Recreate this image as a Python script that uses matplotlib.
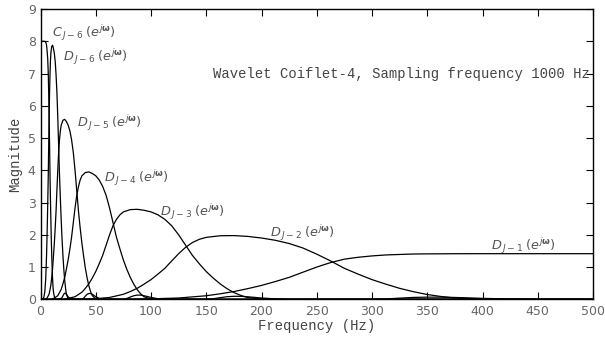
import matplotlib
matplotlib.use("Agg")
import matplotlib.pyplot as plt

# ---------------- data ----------------
freq_c6 = [0, 4, 5, 5.5, 6, 6.5, 7, 7.4, 7.8, 8.2, 8.6, 9, 9.4, 9.8, 10.2, 10.6, 10.9, 11.3, 11.7,
           12.5, 13.3, 14, 19, 20, 21, 21.9, 22.7, 23.4, 24.2, 25, 26.6, 28, 500]
mag_c6 = [8, 8, 7.95, 7.87, 7.69, 7.47, 7.04, 6.45, 5.66, 4.81, 3.85, 3.11, 2.43, 1.81, 1.33, 0.93,
          0.65, 0.40, 0.24, 0.085, 0.03, 0, 0.03, 0.086, 0.155, 0.19, 0.19, 0.156, 0.12, 0.077, 0.03, 0, 0]

freq_d6 = [0, 2.5, 3.125, 3.9, 4.69, 5.08, 5.47, 5.86, 6.25, 6.64, 7.03, 7.42, 7.81, 8.2, 8.6, 8.98,
           9.375, 10.16, 10.94, 11.7, 12.5, 13.3, 14.06, 14.84, 15.625, 16.4, 17.2, 17.97, 18.75,
           19.5, 20.3, 21.1, 21.9, 22.7, 23.4, 25, 37.5, 39.1, 40.6, 42.2, 43.75, 45.3, 46.9, 48.4,
           50, 51.6, 53.1, 56.25, 500]
mag_d6 = [0, 0, 0.085, 0.23, 0.62, 0.96, 1.36, 1.87, 2.45, 3.13, 3.85, 4.77, 5.66, 6.43, 6.97, 7.38,
          7.63, 7.84, 7.88, 7.78, 7.63, 7.38, 6.97, 6.43, 5.66, 4.77, 3.85, 3.13, 2.45, 1.87, 1.36,
          0.93, 0.59, 0.34, 0.16, 0.02, 0, 0.035, 0.1, 0.155, 0.18, 0.18, 0.155, 0.12, 0.08, 0.054,
          0.025, 0, 0]

freq_d5 = [0, 5, 6.25, 7.8, 9.375, 10.16, 10.94, 11.7, 12.5, 13.3, 14.06, 14.84, 15.625, 16.4, 17.2,
           17.97, 18.75, 20.3, 21.9, 23.4, 25, 26.6, 28.1, 29.7, 31.25, 32.8, 34.4, 35.9, 37.5, 39.1,
           40.6, 42.2, 43.75, 45.3, 46.9, 50, 75, 78.1, 81.25, 84.4, 87.5, 90.6, 93.75, 96.9, 100,
           103.1, 106.25, 112.5, 500]
mag_d5 = [0, 0, 0.06, 0.16, 0.44, 0.68, 0.96, 1.32, 1.73, 2.21, 2.72, 3.37, 4.0, 4.55, 4.95, 5.22,
          5.40, 5.55, 5.58, 5.51, 5.40, 5.22, 4.95, 4.55, 4.0, 3.37, 2.72, 2.21, 1.73, 1.32, 0.96,
          0.66, 0.42, 0.24, 0.11, 0.014, 0, 0.025, 0.07, 0.11, 0.13, 0.13, 0.11, 0.085, 0.057, 0.038,
          0.018, 0, 0]

freq_d4 = [0, 10, 12.5, 15.6, 18.75, 20.3, 21.9, 23.4, 25, 26.6, 28.1, 29.7, 31.25, 32.8, 34.4, 35.9,
           37.5, 40.6, 43.75, 46.9, 50, 53.1, 56.25, 59.4, 62.5, 65.6, 68.75, 71.9, 75, 78.1, 81.25,
           84.4, 87.5, 90.6, 93.75, 100, 150, 156.25, 162.5, 168.75, 175, 181.25, 187.5, 193.75, 200,
           206.25, 212.5, 225, 500]
mag_d4 = [0, 0, 0.04, 0.11, 0.31, 0.48, 0.68, 0.93, 1.22, 1.56, 1.92, 2.38, 2.83, 3.22, 3.50, 3.70,
          3.83, 3.93, 3.95, 3.90, 3.83, 3.70, 3.50, 3.22, 2.83, 2.38, 1.92, 1.56, 1.22, 0.93, 0.68,
          0.47, 0.30, 0.17, 0.078, 0.01, 0.004, 0.018, 0.05, 0.08, 0.093, 0.092, 0.078, 0.06, 0.04,
          0.027, 0.013, 0, 0]

freq_d3 = [0, 20, 25, 31.25, 37.5, 40.6, 43.75, 46.9, 50, 53.1, 56.25, 59.4, 62.5, 65.6, 68.75, 71.9,
           75, 81.25, 87.5, 93.75, 100, 106.25, 112.5, 118.75, 125, 131.25, 137.5, 143.75, 150,
           156.25, 162.5, 168.75, 175, 181.25, 187.5, 200, 225, 300, 312.5, 325, 337.5, 350, 362.5,
           375, 387.5, 400, 412.5, 425, 450, 500]
mag_d3 = [0, 0, 0.03, 0.08, 0.22, 0.34, 0.48, 0.66, 0.86, 1.10, 1.36, 1.68, 2.0, 2.28, 2.48, 2.62,
          2.71, 2.78, 2.79, 2.76, 2.71, 2.62, 2.48, 2.28, 2.0, 1.68, 1.36, 1.10, 0.86, 0.66, 0.48,
          0.33, 0.21, 0.12, 0.055, 0.008, 0, 0.003, 0.013, 0.036, 0.058, 0.067, 0.067, 0.057, 0.044,
          0.029, 0.02, 0.01, 0, 0]

freq_d2 = [0, 25, 50, 62.5, 75, 81.25, 87.5, 93.75, 100, 106.25, 112.5, 118.75, 125, 131.25, 137.5,
           143.75, 150, 162.5, 175, 187.5, 200, 212.5, 225, 237.5, 250, 262.5, 275, 287.5, 300,
           312.5, 325, 337.5, 350, 362.5, 375, 400, 450, 500]
mag_d2 = [0, 0, 0.02, 0.057, 0.156, 0.24, 0.34, 0.47, 0.61, 0.78, 0.96, 1.19, 1.414, 1.61, 1.76,
          1.86, 1.92, 1.97, 1.975, 1.95, 1.90, 1.83, 1.73, 1.59, 1.40, 1.19, 0.96, 0.78, 0.61, 0.47,
          0.34, 0.236, 0.148, 0.087, 0.04, 0.006, 0, 0]

freq_d1 = [0, 50, 75, 100, 125, 150, 162.5, 175, 187.5, 200, 212.5, 225, 237.5, 250, 262.5, 275,
           287.5, 300, 312.5, 325, 337.5, 350, 375, 400, 450, 500]
mag_d1 = [0, 0, 0.005, 0.015, 0.04, 0.11, 0.17, 0.24, 0.33, 0.43, 0.55, 0.68, 0.84, 1.0, 1.138,
          1.245, 1.303, 1.345, 1.375, 1.39, 1.404, 1.408, 1.413, 1.414, 1.414, 1.414]

curve_labels = [r"$C_{\,\mathit{J-6}}\;(e^{j\mathbf{\omega}})$",
                r"$D_{\,\mathit{J-6}}\;(e^{j\mathbf{\omega}})$",
                r"$D_{\,\mathit{J-5}}\;(e^{j\mathbf{\omega}})$",
                r"$D_{\,\mathit{J-4}}\;(e^{j\mathbf{\omega}})$",
                r"$D_{\,\mathit{J-3}}\;(e^{j\mathbf{\omega}})$",
                r"$D_{\,\mathit{J-2}}\;(e^{j\mathbf{\omega}})$",
                r"$D_{\,\mathit{J-1}}\;(e^{j\mathbf{\omega}})$"]
label_x = [10, 20, 33, 57.5, 108, 208, 408]
label_y = [8.12, 7.38, 5.36, 3.65, 2.59, 1.94, 1.53]

title_text = "Wavelet Coiflet-4, Sampling frequency 1000 Hz"
x_ticks = [0, 50, 100, 150, 200, 250, 300, 350, 400, 450, 500]
y_ticks = [0, 1, 2, 3, 4, 5, 6, 7, 8, 9]

# ---------------- figure ----------------
plt.rcParams["mathtext.fontset"] = "dejavusans"
fig = plt.figure(figsize=(6.05, 3.39), dpi=100)
ax = fig.add_axes([40.5 / 605, 1 - 299.3 / 339, (593 - 40.5) / 605, (299.3 - 9) / 339])

series = [(freq_c6, mag_c6), (freq_d6, mag_d6), (freq_d5, mag_d5), (freq_d4, mag_d4),
          (freq_d3, mag_d3), (freq_d2, mag_d2), (freq_d1, mag_d1)]
for fx, my in series:
    ax.plot(fx, my, color="black", lw=0.9, solid_joinstyle="round")

for lab, lx, ly in zip(curve_labels, label_x, label_y):
    ax.text(lx, ly, lab, fontsize=9.3, color="#555555", ha="left", va="baseline")

ax.text(497, 7, title_text, family="Liberation Mono", fontsize=10, color="#444444",
        ha="right", va="center")

ax.set_xlim(0, 500)
ax.set_ylim(0, 9)
ax.set_xticks(x_ticks)
ax.set_yticks(y_ticks)
ax.tick_params(direction="in", length=5, width=0.8, top=True, right=True,
               labelsize=9, colors="black")
ax.tick_params(axis="x", pad=4)
for lbl in ax.get_xticklabels() + ax.get_yticklabels():
    lbl.set_color("#666666")
for sp in ax.spines.values():
    sp.set_linewidth(1.0)

ax.set_xlabel("Frequency (Hz)", family="Liberation Mono", fontsize=10, color="#444444", labelpad=1)
ax.set_ylabel("Magnitude", family="Liberation Mono", fontsize=10, color="#444444", labelpad=4)

fig.savefig("out.png", dpi=100)
